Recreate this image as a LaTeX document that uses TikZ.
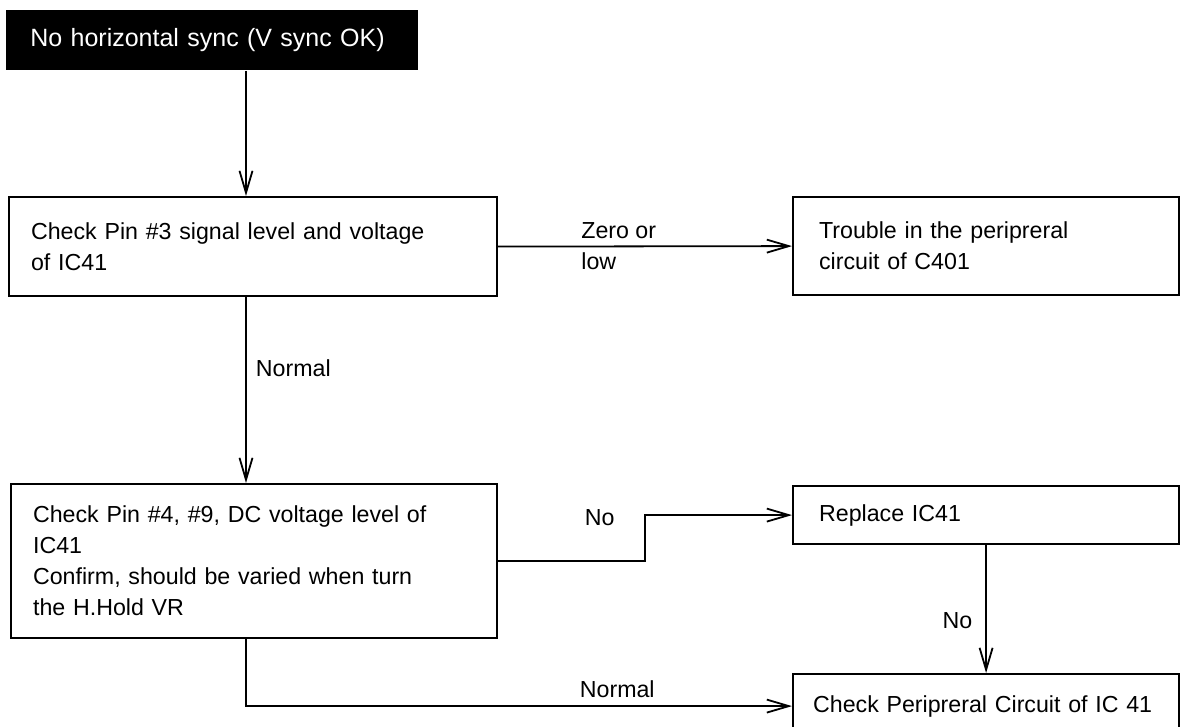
\documentclass[tikz,border=0pt]{standalone}
\usepackage{fontspec}
\setmainfont{Liberation Sans}
\usepackage{tikz}
\usetikzlibrary{positioning, arrows.meta, calc}

\newcommand{\bodyfont}{\fontsize{11.6pt}{15.5pt}\selectfont}
\newcommand{\headfont}{\fontsize{12.5pt}{15pt}\selectfont}

\tikzset{
	stepbox/.style={draw, line width=1.1pt, rectangle, anchor=north west, align=left,
		inner xsep=11pt, inner ysep=0pt, font=\bodyfont},
	headbox/.style={fill=black, text=white, rectangle, anchor=north west, align=left,
		inner xsep=12pt, inner ysep=0pt, font=\headfont},
	lbl/.style={inner sep=0pt, font=\bodyfont, align=left},
	flow/.style={line width=0.9pt, -{Straight Barb[length=11pt, width=6.5pt]}}
}

\begin{document}
\begin{tikzpicture}[x=0.5pt, y=-0.5pt]
				\path[fill=white, use as bounding box] (0,0) rectangle (1180,727);
				
				% left column
				\node[headbox, minimum height=30pt, text width=182pt] (nosync) at (6,10) {No horizontal sync (V sync OK)};
				\node[stepbox, minimum height=49.5pt, text width=222pt] (pin3) at (8,196) {Check Pin \#3 signal level and voltage\\of IC41};
				\node[stepbox, minimum height=77pt, text width=221pt] (pin49) at (10,483) {Check Pin \#4, \#9, DC voltage level of\\IC41\\Confirm, should be varied when turn\\the H.Hold VR};
				
				% right column
				\node[stepbox, inner xsep=13pt, minimum height=49pt, text width=167pt] (trouble) at (792,196) {Trouble in the peripreral\\circuit of C401};
				\node[stepbox, inner xsep=13pt, minimum height=29pt, text width=167pt] (replace) at (792,485) {Replace IC41};
				\node[stepbox, inner xsep=10pt, minimum height=32pt, text width=173pt] (periph) at (792,673) {Check Peripreral Circuit of IC 41};
				
				\coordinate (trunk) at (246,0);
				
				\draw[flow] (nosync.south -| trunk) -- (pin3.north -| trunk);
				\draw[flow] (pin3.south -| trunk) -- node[lbl, right=4.5pt, pos=0.38] {Normal} (pin49.north -| trunk);
				\draw[flow] (pin3.east) -- node[lbl, anchor=west, pos=0.28] {Zero or\\low} (trouble.west);
				\draw[flow] (pin49.east) -- node[lbl, above=17pt, pos=0.69] {No} ++(147,0) |- (replace.west);
				\draw[flow] (replace.south) -- node[lbl, left=6.5pt, pos=0.59] {No} (periph.north);
				\draw[flow] (pin49.south -| trunk) |- node[lbl, above=3.5pt, pos=0.84] {Normal} (periph.west);
			\end{tikzpicture}
\end{document}
